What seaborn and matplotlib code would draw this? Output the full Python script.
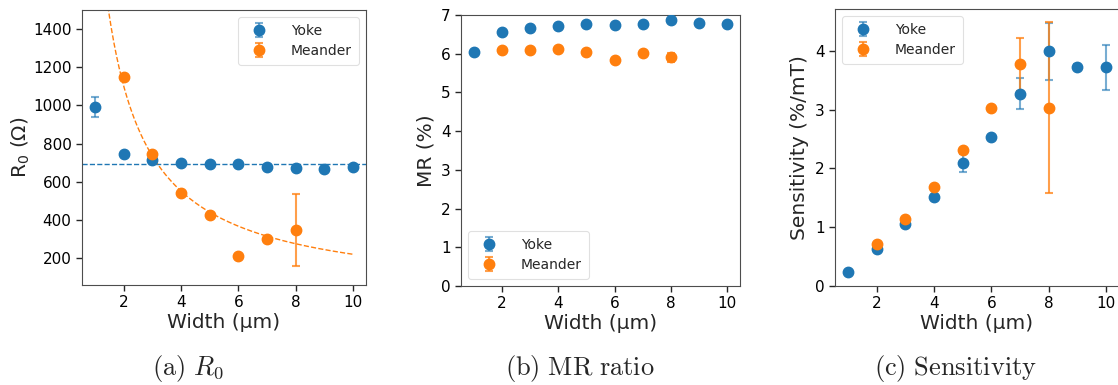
import numpy as np
import matplotlib
matplotlib.use("Agg")
import matplotlib.pyplot as plt
from matplotlib.colors import to_rgba
import seaborn as sns

# ---------------- data ----------------
yoke_width = [1, 2, 3, 4, 5, 6, 7, 8, 9, 10]
meander_width = [2, 3, 4, 5, 6, 7, 8]

yoke_r0 = [992, 747, 715, 698, 694, 694, 680, 672, 670, 680]
yoke_r0_err = [52, 0, 0, 0, 0, 0, 0, 0, 0, 0]
meander_r0 = [1147, 747, 541, 424, 214, 300, 348]
meander_r0_err = [0, 0, 0, 0, 0, 0, 190]

yoke_mr = [6.05, 6.57, 6.66, 6.72, 6.76, 6.74, 6.77, 6.86, 6.79, 6.76]
yoke_mr_err = [0, 0, 0, 0, 0, 0, 0, 0, 0, 0]
meander_mr = [6.09, 6.10, 6.11, 6.05, 5.83, 6.02, 5.91]
meander_mr_err = [0, 0, 0, 0, 0, 0, 0.12]

yoke_sens = [0.24, 0.635, 1.05, 1.515, 2.09, 2.536, 3.27, 3.99, 3.73, 3.72]
yoke_sens_err = [0, 0, 0, 0, 0.16, 0, 0.26, 0.49, 0.04, 0.38]
meander_sens = [0.71, 1.135, 1.685, 2.31, 3.02, 3.77, 3.035]
meander_sens_err = [0, 0, 0, 0, 0, 0.45, 1.45]

series_labels = ["Yoke", "Meander"]
x_label = "Width (µm)"
y_labels = [r"R$_0$ ($\Omega$)", "MR (%)", "Sensitivity (%/mT)"]
captions = [r"$\mathrm{(a)}\ R_0$", r"$\mathrm{(b)\ MR\ ratio}$", r"$\mathrm{(c)\ Sensitivity}$"]

# ---------------- style ----------------
sns.set_style("ticks")
plt.rcParams["font.family"] = ["DejaVu Sans"]
plt.rcParams["mathtext.fontset"] = "dejavusans"
pal = sns.color_palette("tab10")
c_yoke, c_mean = pal[0], pal[1]

W, H = 1118, 385
fig = plt.figure(figsize=(W / 100, H / 100), dpi=100)

def box(l, r, t, b):
    return [l / W, (H - b) / H, (r - l) / W, (b - t) / H]

axes = [
    fig.add_axes(box(82, 366, 10, 285)),
    fig.add_axes(box(461, 740, 15, 286)),
    fig.add_axes(box(835, 1119, 9, 286)),
]

def draw(ax, yv, ye, mv, me):
    ax.errorbar(yoke_width, yv, yerr=ye, fmt="o", color=c_yoke, ms=7.5,
                ecolor=to_rgba(c_yoke, 0.6), elinewidth=1.5, capsize=3.2,
                capthick=1.5, label=series_labels[0], zorder=3)
    ax.errorbar(meander_width, mv, yerr=me, fmt="o", color=c_mean, ms=7.5,
                ecolor=to_rgba(c_mean, 0.75), elinewidth=1.5, capsize=3.2,
                capthick=1.5, label=series_labels[1], zorder=3)

draw(axes[0], yoke_r0, yoke_r0_err, meander_r0, meander_r0_err)
draw(axes[1], yoke_mr, yoke_mr_err, meander_mr, meander_mr_err)
draw(axes[2], yoke_sens, yoke_sens_err, meander_sens, meander_sens_err)

# fits for panel (a)
ax = axes[0]
yoke_mean = np.mean(yoke_r0[1:])
ax.axhline(yoke_mean, color=c_yoke, ls="--", lw=1.0, zorder=2)
mx = np.array(meander_width, float)
my = np.array(meander_r0, float)
A = np.sum(my / mx) / np.sum(1.0 / mx ** 2)
xf = np.linspace(1.0, 10.0, 300)
sns.lineplot(x=xf, y=A / xf, ax=ax, color=c_mean, ls="--", lw=1.0, zorder=2)
ax.set_ylim(60, 1500)
ax.set_yticks([200, 400, 600, 800, 1000, 1200, 1400])

axes[1].set_ylim(0, 7)
axes[2].set_ylim(0, 4.71)
axes[2].set_yticks([0, 1, 2, 3, 4])

legend_locs = ["upper right", "lower left", "upper left"]
ylabel_pads = [1.0, 4, 4]
for i, ax in enumerate(axes):
    ax.set_xlim(0.55, 10.45)
    ax.set_xticks([2, 4, 6, 8, 10])
    ax.tick_params(labelsize=11, length=4, width=1, labelcolor="black")
    ax.set_xlabel(x_label, fontsize=14.5, labelpad=2)
    ax.set_ylabel(y_labels[i], fontsize=14.5, labelpad=ylabel_pads[i])
    for s in ax.spines.values():
        s.set_color("0.3")
    leg = ax.legend(loc=legend_locs[i], fontsize=10, handletextpad=1.3,
                    borderpad=0.5, labelspacing=0.45, frameon=True, fancybox=True)
    leg.get_frame().set_edgecolor("0.85")
    leg.get_frame().set_linewidth(0.8)

cap_x = [188, 580, 956]
for cx, txt in zip(cap_x, captions):
    fig.text(cx / W, (H - 368) / H, txt, ha="center", va="center", fontsize=19,
             math_fontfamily="cm")

fig.savefig("out.png", dpi=100)
